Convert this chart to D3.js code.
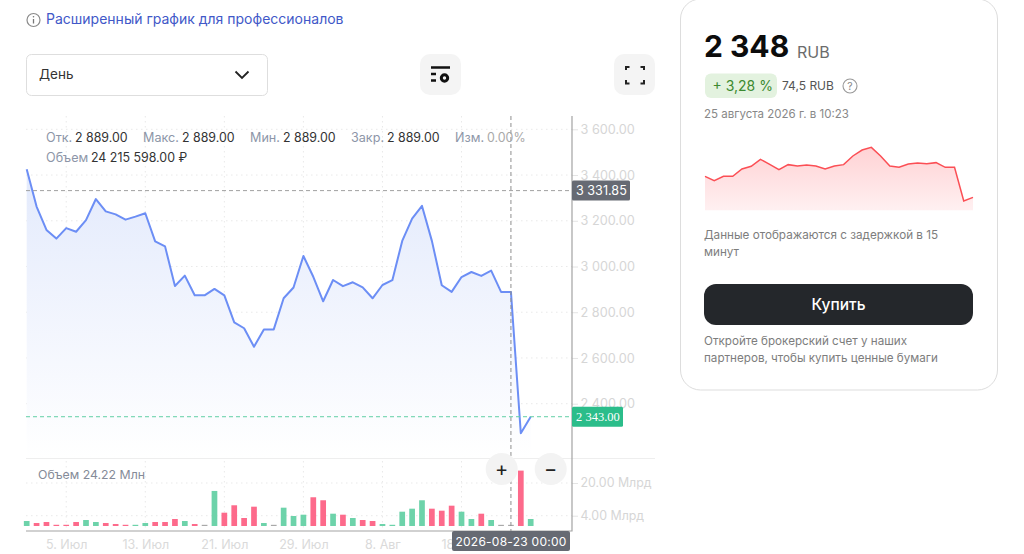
<!DOCTYPE html>
<html><head><meta charset="utf-8">
<script src="https://cdn.jsdelivr.net/npm/d3@7/dist/d3.min.js"></script>
<style>
html,body{margin:0;padding:0;background:#fff;overflow:hidden}
svg{display:block;font-family:Inter,"Noto Sans",sans-serif}
</style></head><body><svg id="c" width="1024" height="554"></svg>
<script>
const dates=["07-01","07-02","07-03","07-04","07-05","07-06","07-07","07-08","07-09","07-10","07-11","07-12","07-13","07-14","07-15","07-16","07-17","07-18","07-19","07-20","07-21","07-22","07-23","07-24","07-25","07-26","07-27","07-28","07-29","07-30","07-31","08-03","08-04","08-05","08-06","08-07","08-08","08-11","08-12","08-13","08-14","08-15","08-16","08-17","08-18","08-19","08-20","08-21","08-22","08-23","08-24","08-25"];
const closes=[3425,3262,3160,3122,3168,3152,3203,3295,3241,3228,3205,3218,3233,3110,3088,2915,2960,2874,2874,2902,2874,2756,2730,2649,2725,2725,2861,2908,3046,2955,2848,2941,2914,2931,2909,2861,2919,2940,3112,3209,3265,3112,2918,2889,2954,2976,2959,2982,2889,2889,2271,2343];
const volumes=[1.89,.91,1.4,.05,.05,1.4,2.38,1.4,.91,.42,.05,.04,.91,1.4,1.4,2.87,1.89,.42,.03,16.6,5.96,9.59,3.36,8.9,.91,.03,8.41,4.34,4.98,13.51,12.04,5.47,4.98,3.36,2.38,1.89,.42,.05,6.45,7.92,12.04,7.92,6.94,9.39,6.45,2.87,5.47,2.38,.03,.024,26.55,2.87];
const volDir=["u","d","d","d","d","d","u","u","d","d","d","u","u","d","d","d","u","d","f","u","d","d","d","d","u","f","u","u","u","d","d","u","d","u","d","d","u","u","u","u","u","d","d","d","u","u","d","u","f","f","d","u"];
const priceTicks=[3600,3400,3200,3000,2800,2600,2400];
const volTicks=[20,4];
const xTickDates=["07-05","07-13","07-21","07-29","08-08"];
const xTickLabels=["5. Июл","13. Июл","21. Июл","29. Июл","8. Авг"];
const gridDates=["07-05","07-13","07-21","07-29","08-08","08-18"];
const crossDate="08-23", crossPrice=3331.85, lastPrice=2343;
const spark=[2734,2654,2734,2734,2868,2917,3046,2954,2856,2948,2923,2942,2923,2868,2923,2948,3107,3217,3266,3107,2923,2899,2960,2978,2966,2985,2899,2899,2281,2348];
const legendRow=[["Отк.",46,"2 889.00",75],["Макс.",143,"2 889.00",182],["Мин.",250,"2 889.00",283],["Закр.",351,"2 889.00",387]];

const svg=d3.select("#c");
const F=d3.formatLocale({decimal:".",thousands:"\u00a0",grouping:[3],currency:["",""]}).format(",.2f");
const L=26,R=572,T=116,B=531;
const x=d3.scalePoint().domain(dates).range([26.7,530.7]);
const y=d3.scaleLinear().domain([2400,3600]).range([403.7,129.3]);
const yv=d3.scaleLinear().domain([4,20]).range([515.7,483]);
const defs=svg.append("defs");
const g1=defs.append("linearGradient").attr("id","ga").attr("x1",0).attr("x2",0).attr("y1",0).attr("y2",1);
g1.append("stop").attr("offset",0).attr("stop-color","#e3eafc");g1.append("stop").attr("offset",1).attr("stop-color","#ffffff");
const g2=defs.append("linearGradient").attr("id","gs").attr("x1",0).attr("x2",0).attr("y1",0).attr("y2",1);
g2.append("stop").attr("offset",0).attr("stop-color","#ffd2d4");g2.append("stop").attr("offset",1).attr("stop-color","#fff0f1");

function text(t,px,py,o={}){return svg.append("text").attr("x",px).attr("y",py).attr("font-size",o.s||13).attr("fill",o.c||"#333").attr("font-weight",o.w||400).attr("text-anchor",o.a||"start").attr("font-family",o.f||null).attr("letter-spacing",o.ls||null).text(t);}

// Header
svg.append("circle").attr("cx",33.5).attr("cy",20).attr("r",6.5).attr("fill","none").attr("stroke","#8a8a8a").attr("stroke-width",1.2);
svg.append("line").attr("x1",33.5).attr("x2",33.5).attr("y1",19).attr("y2",23.5).attr("stroke","#777").attr("stroke-width",1.3);
svg.append("circle").attr("cx",33.5).attr("cy",16.8).attr("r",.8).attr("fill","#777");
text("Расширенный график для профессионалов",46,24,{s:14,c:"#4158c8"});
svg.append("rect").attr("x",26.5).attr("y",54.5).attr("width",241).attr("height",41).attr("rx",5).attr("fill","#fff").attr("stroke","#dedede");
text("День",39,79,{s:13.5,c:"#333"});
svg.append("path").attr("d","M235.5 71.5L242 78L248.5 71.5").attr("fill","none").attr("stroke","#222").attr("stroke-width",1.8);
[420,614].forEach(px=>svg.append("rect").attr("x",px).attr("y",54).attr("width",41).attr("height",41).attr("rx",10).attr("fill","#f4f4f4"));
svg.append("path").attr("d","M431 67.5H450M431 74H436M431 80.500H436").attr("stroke","#111").attr("stroke-width",2.4).attr("fill","none");
svg.append("circle").attr("cx",444.5).attr("cy",78).attr("r",3.2).attr("fill","none").attr("stroke","#111").attr("stroke-width",3);
svg.append("path").attr("d","M626 70V67H629.5M640.5 67H644V70M626 80V83.500H629.5M640.5 83.500H644V80").attr("fill","none").attr("stroke","#222").attr("stroke-width",2);

// Grid
const grid=svg.append("g").attr("stroke","#e9e9e9").attr("stroke-dasharray","1.5 3.5").attr("stroke-width",1);
grid.selectAll(".h").data(priceTicks).join("line").attr("x1",L).attr("x2",R).attr("y1",d=>y(d)).attr("y2",d=>y(d));
grid.selectAll(".v").data(volTicks).join("line").attr("x1",L).attr("x2",R).attr("y1",d=>yv(d)).attr("y2",d=>yv(d));
grid.selectAll(".x").data(gridDates).join("line").attr("x1",d=>x(d)).attr("x2",d=>x(d)).attr("y1",T).attr("y2",B);
svg.append("line").attr("x1",L).attr("x2",655).attr("y1",458.5).attr("y2",458.5).attr("stroke","#eeeeee");

// Area and line
svg.append("path").datum(closes).attr("fill","url(#ga)").attr("d",d3.area().x((d,i)=>x(dates[i])).y0(458).y1(d=>y(d)));
svg.append("path").datum(closes).attr("fill","none").attr("stroke","#6c8ef5").attr("stroke-width",2).attr("stroke-linejoin","round").attr("d",d3.line().x((d,i)=>x(dates[i])).y(d=>y(d)));

// Volume bars
const volColor={u:"#6dd3aa",d:"#fd6a8b",f:"#a9a9a9"};
const vBase=526;
svg.selectAll(".bar").data(volumes).join("rect").attr("x",(d,i)=>x(dates[i])-2.85).attr("width",5.7)
 .attr("y",d=>Math.min(yv(d)+1,vBase-1)).attr("height",d=>Math.max(vBase-yv(d)-1,1)).attr("fill",(d,i)=>volColor[volDir[i]]);

// Axes
const axP=svg.append("g").attr("transform",`translate(${R},0)`).call(d3.axisRight(y).tickValues(priceTicks).tickSize(6).tickPadding(2.5).tickFormat(F));
const axV=svg.append("g").attr("transform",`translate(${R},0)`).call(d3.axisRight(yv).tickValues(volTicks).tickSize(6).tickPadding(2.5).tickFormat(d=>F(d)+" Млрд"));
[axP,axV].forEach(a=>{a.select(".domain").remove();a.selectAll("line").attr("stroke","#e4e4e4");a.selectAll("text").attr("fill","#d6d6d6").attr("font-family","Inter");});
axP.selectAll("text").attr("font-size",12.7);
axV.selectAll("text").attr("font-size",12.4);
const axX=svg.append("g").attr("transform",`translate(0,${B})`).call(d3.axisBottom(x).tickValues(xTickDates).tickSize(0).tickPadding(9).tickFormat(d=>xTickLabels[xTickDates.indexOf(d)]));
axX.select(".domain").remove();axX.selectAll("text").attr("fill","#dadada").attr("font-size",12.5).attr("font-family","Inter");
text("18",x("08-18")-20,549,{s:12.5,c:"#dadada"});
svg.append("path").attr("d",`M${L} ${B}H${R}V${T}`).attr("fill","none").attr("stroke","#a3a3a3").attr("stroke-width",1.2);

// Crosshair and last price
svg.append("line").attr("x1",x(crossDate)).attr("x2",x(crossDate)).attr("y1",T).attr("y2",B).attr("stroke","#8f8f8f").attr("stroke-width",1).attr("stroke-dasharray","4 3");
svg.append("line").attr("x1",L).attr("x2",R).attr("y1",y(crossPrice)).attr("y2",y(crossPrice)).attr("stroke","#a0a0a0").attr("stroke-width",1).attr("stroke-dasharray","4 3");
svg.append("line").attr("x1",L).attr("x2",R).attr("y1",y(lastPrice)).attr("y2",y(lastPrice)).attr("stroke","#62cfa6").attr("stroke-width",1).attr("stroke-dasharray","4 3");
svg.append("rect").attr("x",R).attr("y",y(crossPrice)-10).attr("width",58).attr("height",20).attr("rx",1.5).attr("fill","#666a73");
text(F(crossPrice),576,y(crossPrice)+4.6,{s:12.6,c:"#fff"});
svg.append("rect").attr("x",R).attr("y",y(lastPrice)-10).attr("width",51).attr("height",20).attr("rx",1.5).attr("fill","#2bbd8a");
text(F(lastPrice),576,y(lastPrice)+4,{s:12.5,c:"#fff",f:"Liberation Serif"});

// Date tooltip
svg.append("rect").attr("x",452).attr("y",531).attr("width",118).attr("height",20).attr("rx",2).attr("fill","#666a73");
text("2026-08-23 00:00",511,545.5,{s:12,c:"#fff",a:"middle",ls:.25});

// Zoom buttons
[[501.7,"+"],[550.7,"−"]].forEach(([cx,t])=>{svg.append("circle").attr("cx",cx).attr("cy",469).attr("r",16).attr("fill","#f3f3f3");text(t,cx,476,{s:20,c:"#222",a:"middle"});});

// Legend
legendRow.forEach(([k,kx,v,vx])=>{text(k,kx,142,{s:12.6,c:"#8d96a8"});text(v,vx,142,{s:12.4,c:"#333"});});
text("Изм.",455,142,{s:12.6,c:"#8d96a8"});text("0.00%",487,142,{s:12.4,c:"#a9a9a9"});
text("Объем",46,162,{s:12.6,c:"#8d96a8"});text("24 215 598.00 ₽",91,162,{s:12.4,c:"#333"});
text("Объем 24.22 Млн",38,479,{s:12.3,c:"#858b98"});

// Card
svg.append("rect").attr("x",680.5).attr("y",-1).attr("width",317).attr("height",391).attr("rx",20).attr("fill","#fff").attr("stroke","#dddddd");
text("2 348",704,57,{s:30,c:"#0c0c0c",w:700});
text("RUB",797,58,{s:16,c:"#6c6c6c"});
svg.append("rect").attr("x",705).attr("y",73.5).attr("width",72).attr("height",24.500).attr("rx",6).attr("fill","#e3f2df");
text("+ 3,28 %",712.5,91,{s:14,c:"#3c8a30"});
text("74,5 RUB",782,90,{s:12,c:"#555"});
svg.append("circle").attr("cx",850).attr("cy",86).attr("r",7).attr("fill","none").attr("stroke","#999").attr("stroke-width",1.1);
text("?",850,90,{s:10.5,c:"#888",a:"middle"});
text("25 августа 2026 г. в 10:23",704,118,{s:11.5,c:"#888"});

const sx=d3.scalePoint().domain(d3.range(spark.length)).range([705,973]);
const sy=d3.scaleLinear().domain([2348,3266]).range([197.33,147.33]);
svg.append("path").datum(spark).attr("fill","url(#gs)").attr("d",d3.area().x((d,i)=>sx(i)).y0(210.3).y1(d=>sy(d)));
svg.append("path").datum(spark).attr("fill","none").attr("stroke","#fb4f55").attr("stroke-width",1.5).attr("d",d3.line().x((d,i)=>sx(i)).y(d=>sy(d)));

text("Данные отображаются с задержкой в 15",704,239,{s:11.7,c:"#7d7d7d"});
text("минут",704,256,{s:11.7,c:"#7d7d7d"});
svg.append("rect").attr("x",704).attr("y",284).attr("width",269).attr("height",41).attr("rx",12).attr("fill","#24272b");
text("Купить",838.5,310,{s:15.5,c:"#fff",a:"middle",w:500});
text("Откройте брокерский счет у наших",704,345,{s:11.65,c:"#7d7d7d"});
text("партнеров, чтобы купить ценные бумаги",704,362,{s:11.65,c:"#7d7d7d"});
</script></body></html>
